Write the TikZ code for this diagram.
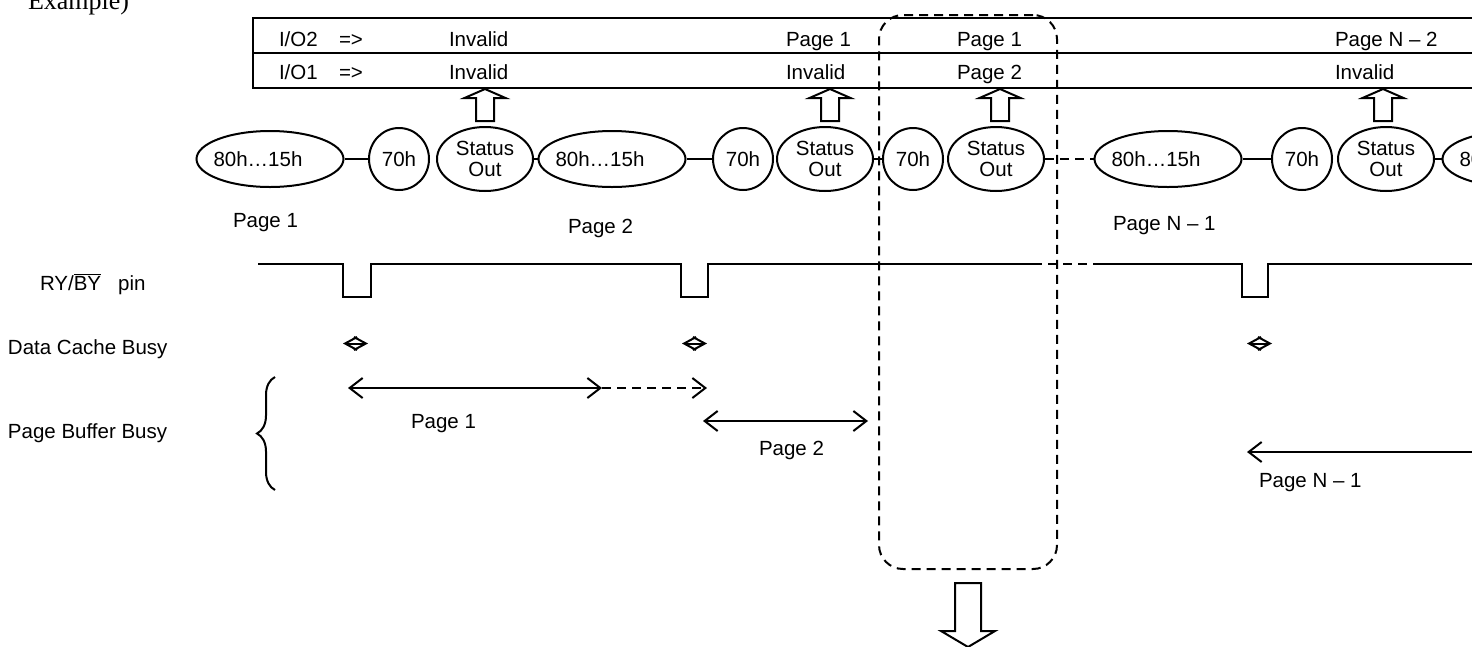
\documentclass[tikz,border=0pt]{standalone}
\usepackage{fontspec}
\setmainfont{Liberation Sans}
\newfontfamily\exfont{Liberation Serif}
\usetikzlibrary{arrows.meta, shapes.geometric, positioning, decorations.pathreplacing, calc}

% command text sits a little left of the ellipse centre
\newcommand{\cmdleft}[1]{\makebox[0pt]{\hspace*{-24pt}#1}}

\begin{document}
\begin{tikzpicture}[
  x=1pt, y=-1pt, line width=2pt,
  every node/.style={font=\fontsize{20.5}{21.7}\selectfont, inner sep=0pt},
  txt/.style={anchor=base west},
  cmdell/.style={ellipse, draw, minimum width=147pt, minimum height=56pt},
  rdcmd/.style={ellipse, draw, minimum width=60pt, minimum height=62pt},
  stat/.style={ellipse, draw, minimum width=96pt, minimum height=64pt, align=center},
  dsh/.style={dash pattern=on 9pt off 6pt},
  barb/.style={-{Straight Barb[length=13pt, width=20pt]}},
  dbl/.style={{Straight Barb[length=13pt, width=20pt]}-{Straight Barb[length=13pt, width=20pt]}},
  blip/.style={{Straight Barb[length=12pt, width=13pt]}-{Straight Barb[length=12pt, width=13pt]}},
  upout/.pic={\draw[line join=miter] (0,0) -- (20.5,9) -- (9,9) -- (9,32) -- (-9,32) -- (-9,9) -- (-20.5,9) -- cycle;},
  downout/.pic={\draw[line join=miter] (-13,0) -- (13,0) -- (13,48) -- (27,48) -- (0,64) -- (-27,48) -- (-13,48) -- cycle;},
]
\useasboundingbox (0,0) rectangle (1472,646);

\node[anchor=base west, font=\exfont\fontsize{26}{28}\selectfont] (extitle) at (27,9) {Example)};

% I/O table
\node[draw, anchor=north west, minimum width=1240pt, minimum height=70pt] (iotab) at (252,17) {};
\draw (iotab.west) -- (iotab.east);
\node[txt] (io2) at (278,46.5) {I/O2};
\node[txt] (io2ar) at (338,46.5) {=>};
\node[txt] (io2a) at (448,46.5) {Invalid};
\node[txt] (io2b) at (785,46.5) {Page 1};
\node[txt] (io2c) at (956,46.5) {Page 1};
\node[txt] (io2d) at (1334,46.5) {Page N – 2};
\node[txt] (io1) at (278,79) {I/O1};
\node[txt] (io1ar) at (338,79) {=>};
\node[txt] (io1a) at (448,79) {Invalid};
\node[txt] (io1b) at (785,79) {Invalid};
\node[txt] (io1c) at (956,79) {Page 2};
\node[txt] (io1d) at (1334,79) {Invalid};

% command sequence
\node[cmdell] (e1) at (270,159) {\cmdleft{80h…15h}};
\node[rdcmd] (c1) at (399,159) {70h};
\node[stat] (s1) at (485,159) {Status\\Out};
\node[cmdell] (e2) at (612,159) {\cmdleft{80h…15h}};
\node[rdcmd] (c2) at (743,159) {70h};
\node[stat] (s2) at (825,159) {Status\\Out};
\node[rdcmd] (c3) at (913,159) {70h};
\node[stat] (s3) at (996,159) {Status\\Out};
\node[cmdell] (e3) at (1168,159) {\cmdleft{80h…15h}};
\node[rdcmd] (c4) at (1302,159) {70h};
\node[stat] (s4) at (1386,159) {Status\\Out};
\node[cmdell] (e4) at (1516,159) {\cmdleft{80h…15h}};

\draw (e1) -- (c1);
\draw (s1) -- (e2);
\draw (e2) -- (c2);
\draw (s2) -- (c3);
\draw[dsh] (s3) -- (e3);
\draw (e3) -- (c4);
\draw (s4) -- (e4);

\pic at (s1 |- iotab.south) {upout};
\pic at ($(s2 |- iotab.south)+(5,0)$) {upout};
\pic at ($(s3 |- iotab.south)+(4,0)$) {upout};
\pic at ($(s4 |- iotab.south)+(-3,0)$) {upout};

\node[txt] (pg1) at (232,227) {Page 1};
\node[txt] (pg2) at (567,233) {Page 2};
\node[txt] (pgn) at (1112,230) {Page N – 1};

% RY/BY waveform
\node[txt] (rybylbl) at (39,290) {RY/$\overline{\hbox{BY}}$\hspace{17pt}pin};
\draw (258,264) -- (343,264) -- (343,297) -- (371,297) -- (371,264) -- (681,264) -- (681,297) -- (708,297) -- (708,264) -- (1033,264);
\draw[dsh] (1033,264) -- (1100,264);
\draw (1100,264) -- (1242,264) -- (1242,297) -- (1268,297) -- (1268,264) -- (1480,264);

% data cache busy
\node[txt] (dclbl) at (7,354) {Data Cache Busy};
\coordinate (dc1l) at (343,343.5); \coordinate (dc1r) at (368,343.5);
\coordinate (dc2l) at (682,343.5); \coordinate (dc2r) at (707,343.5);
\coordinate (dc3l) at (1247,343.5); \coordinate (dc3r) at (1272,343.5);
\draw[blip] (dc1l) -- (dc1r);
\draw[blip] (dc2l) -- (dc2r);
\draw[blip] (dc3l) -- (dc3r);

% page buffer busy
\node[txt] (pblbl) at (7,438) {Page Buffer Busy};
\draw[decorate, decoration={brace, amplitude=18pt}] (275,490) -- (275,377);
\coordinate (pb1s) at (348,388); \coordinate (pb1m) at (602,388); \coordinate (pb1e) at (707,388);
\draw[dbl] (pb1s) -- (pb1m);
\draw[barb, dsh] (pb1m) -- (pb1e);
\node[txt] (pb1lbl) at (410,428) {Page 1};
\coordinate (pb2s) at (703,421); \coordinate (pb2e) at (868,421);
\draw[dbl] (pb2s) -- (pb2e);
\node[txt] (pb2lbl) at (758,455) {Page 2};
\coordinate (pbns) at (1247,452); \coordinate (pbne) at (1490,452);
\draw[{Straight Barb[length=13pt, width=20pt]}-] (pbns) -- (pbne);
\node[txt] (pbnlbl) at (1258,487) {Page N – 1};

% window and output arrow
\node[draw, dsh, rounded corners=24pt, anchor=north west, minimum width=178pt, minimum height=554pt] (win) at (878,14) {};
\pic at ($(win.south)+(0,13)$) {downout};

\end{tikzpicture}
\end{document}
